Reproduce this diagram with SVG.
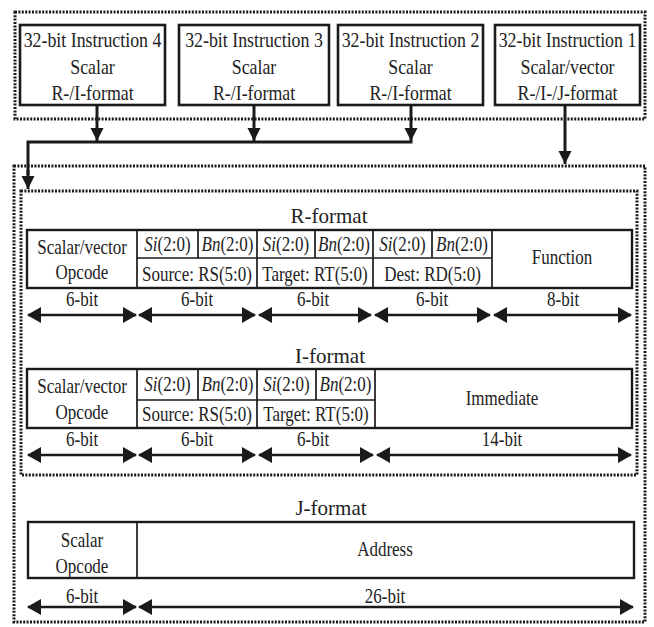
<svg xmlns="http://www.w3.org/2000/svg" width="654" height="627" viewBox="0 0 654 627">
<defs>
<style>
text{font-family:"Liberation Serif","Times New Roman",serif;fill:#222;text-anchor:middle;transform-box:fill-box;transform-origin:center;transform:scaleX(0.85)}
.box{fill:#fff;stroke:#1a1a1a;stroke-width:2.6}
.cell{fill:none;stroke:#1a1a1a;stroke-width:2.4}
.in{stroke:#1a1a1a;stroke-width:1.7}
.dot{fill:none;stroke:#1a1a1a;stroke-width:3;stroke-dasharray:2 1.4}
.t21{font-size:21px}
.t20{font-size:20px}
.title{font-size:21px;transform:none}
.bit{fill:none;stroke:#1a1a1a;stroke-width:2.5;marker-start:url(#bh);marker-end:url(#bh)}
.conn{fill:none;stroke:#1a1a1a;stroke-width:3}
.ca{marker-end:url(#ch)}
.it{font-style:italic}
</style>
<marker id="bh" markerUnits="userSpaceOnUse" markerWidth="14" markerHeight="16" refX="13" refY="8" orient="auto-start-reverse" viewBox="0 0 14 16">
<path d="M0,0 L14,8 L0,16 z" fill="#1a1a1a"/>
</marker>
<marker id="ch" markerUnits="userSpaceOnUse" markerWidth="13" markerHeight="14" refX="13" refY="6.5" orient="auto" viewBox="0 0 13 14">
<path d="M0,0 L13,6.5 L0,13 z" fill="#1a1a1a"/>
</marker>
</defs>
<rect width="654" height="627" fill="#fff"/>

<g id="frames">
<rect class="dot" x="15" y="12" width="630" height="107"/>
<rect class="dot" x="14" y="166" width="631" height="456"/>
<rect class="dot" x="21" y="191" width="616" height="284"/>
</g>

<g id="instr4">
<rect class="box" x="20" y="25" width="145" height="80"/>
<text class="t21" x="92.5" y="47">32-bit Instruction 4</text>
<text class="t21" x="92.5" y="74">Scalar</text>
<text class="t21" x="92.5" y="100">R-/I-format</text>
</g>
<g id="instr3">
<rect class="box" x="179" y="25" width="150" height="80"/>
<text class="t21" x="254" y="47">32-bit Instruction 3</text>
<text class="t21" x="254" y="74">Scalar</text>
<text class="t21" x="254" y="100">R-/I-format</text>
</g>
<g id="instr2">
<rect class="box" x="338" y="25" width="145" height="80"/>
<text class="t21" x="410.5" y="47">32-bit Instruction 2</text>
<text class="t21" x="410.5" y="74">Scalar</text>
<text class="t21" x="410.5" y="100">R-/I-format</text>
</g>
<g id="instr1">
<rect class="box" x="495" y="25" width="145" height="80"/>
<text class="t21" x="567.5" y="47">32-bit Instruction 1</text>
<text class="t21" x="567.5" y="74">Scalar/vector</text>
<text class="t21" x="567.5" y="100">R-/I-/J-format</text>
</g>

<g id="connectors">
<path class="conn ca" d="M97,105 V141"/>
<path class="conn ca" d="M254,105 V141"/>
<path class="conn ca" d="M411,105 V141"/>
<path class="conn" d="M412.5,142 H28 V175"/>
<path class="conn ca" d="M28,170 V189"/>
<path class="conn ca" d="M565,105 V164"/>
</g>

<g id="rformat">
<text class="title" x="329" y="223">R-format</text>
<rect class="cell" x="27" y="230" width="605" height="58"/>
<path class="in" d="M137,230 V288 M198,230 V258 M257,230 V288 M315,230 V258 M373,230 V288 M432,230 V258 M492,230 V288 M137,258 H492"/>
<text class="t20" x="82" y="254">Scalar/vector</text>
<text class="t20" x="82" y="279">Opcode</text>
<text class="t20" x="167.5" y="251"><tspan class="it">Si</tspan>(2:0)</text>
<text class="t20" x="227.5" y="251"><tspan class="it">Bn</tspan>(2:0)</text>
<text class="t20" x="286" y="251"><tspan class="it">Si</tspan>(2:0)</text>
<text class="t20" x="344" y="251"><tspan class="it">Bn</tspan>(2:0)</text>
<text class="t20" x="402.5" y="251"><tspan class="it">Si</tspan>(2:0)</text>
<text class="t20" x="462" y="251"><tspan class="it">Bn</tspan>(2:0)</text>
<text class="t20" x="197" y="281">Source: RS(5:0)</text>
<text class="t20" x="315" y="281">Target: RT(5:0)</text>
<text class="t20" x="432.5" y="281">Dest: RD(5:0)</text>
<text class="t20" x="562" y="264">Function</text>
<path class="bit" d="M28,315 H136"/>
<path class="bit" d="M139,315 H255"/>
<path class="bit" d="M259,315 H371"/>
<path class="bit" d="M375,315 H490"/>
<path class="bit" d="M494,315 H631"/>
<text class="t20" x="82" y="306">6-bit</text>
<text class="t20" x="197" y="306">6-bit</text>
<text class="t20" x="313" y="306">6-bit</text>
<text class="t20" x="432" y="306">6-bit</text>
<text class="t20" x="563" y="306">8-bit</text>
</g>

<g id="iformat">
<text class="title" x="330" y="363">I-format</text>
<rect class="cell" x="27" y="369" width="605" height="59"/>
<path class="in" d="M137,369 V428 M198,369 V400 M257,369 V428 M316,369 V400 M375,369 V428 M137,400 H375"/>
<text class="t20" x="82" y="393">Scalar/vector</text>
<text class="t20" x="82" y="419">Opcode</text>
<text class="t20" x="167.5" y="391"><tspan class="it">Si</tspan>(2:0)</text>
<text class="t20" x="227.5" y="391"><tspan class="it">Bn</tspan>(2:0)</text>
<text class="t20" x="286.5" y="391"><tspan class="it">Si</tspan>(2:0)</text>
<text class="t20" x="345.5" y="391"><tspan class="it">Bn</tspan>(2:0)</text>
<text class="t20" x="197" y="421">Source: RS(5:0)</text>
<text class="t20" x="316" y="421">Target: RT(5:0)</text>
<text class="t20" x="502" y="405">Immediate</text>
<path class="bit" d="M28,455 H136"/>
<path class="bit" d="M139,455 H255"/>
<path class="bit" d="M259,455 H373"/>
<path class="bit" d="M377,455 H631"/>
<text class="t20" x="82" y="446">6-bit</text>
<text class="t20" x="197" y="446">6-bit</text>
<text class="t20" x="313" y="446">6-bit</text>
<text class="t20" x="502" y="446">14-bit</text>
</g>

<g id="jformat">
<text class="title" x="331" y="515">J-format</text>
<rect class="cell" x="28" y="522" width="606" height="56"/>
<path class="in" d="M137,522 V578"/>
<text class="t20" x="82" y="547">Scalar</text>
<text class="t20" x="82" y="573">Opcode</text>
<text class="t20" x="385" y="556">Address</text>
<path class="bit" d="M28,607 H136"/>
<path class="bit" d="M139,607 H633"/>
<text class="t20" x="82" y="603">6-bit</text>
<text class="t20" x="385" y="603">26-bit</text>
</g>
</svg>
